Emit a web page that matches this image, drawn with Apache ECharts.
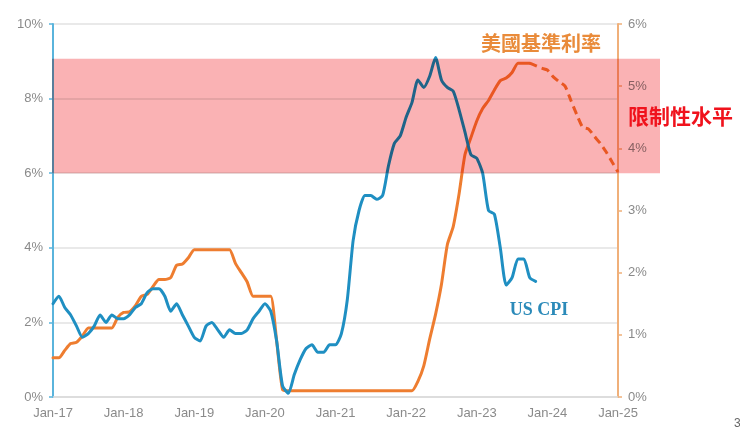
<!DOCTYPE html>
<html>
<head>
<meta charset="utf-8">
<script src="https://cdn.jsdelivr.net/npm/echarts@6/dist/echarts.min.js"></script>
<style>
html,body{margin:0;padding:0;background:#fff;}
#c{width:740px;height:432px;}
</style>
</head>
<body>
<div id="c"></div>
<script>
// X ticks (one per January; month index 0 = Jan-17)
const xTickLabels = ['Jan-17','Jan-18','Jan-19','Jan-20','Jan-21','Jan-22','Jan-23','Jan-24','Jan-25'];
// US CPI y/y %, monthly Jan-17 .. Nov-23 (left axis)
const cpi = [
  2.5, 2.7, 2.4, 2.2, 1.9, 1.6, 1.7, 1.9, 2.2, 2.0, 2.2, 2.1,
  2.1, 2.2, 2.4, 2.5, 2.8, 2.9, 2.9, 2.7, 2.3, 2.5, 2.2, 1.9,
  1.6, 1.5, 1.9, 2.0, 1.8, 1.6, 1.8, 1.7, 1.7, 1.8, 2.1, 2.3,
  2.5, 2.3, 1.5, 0.3, 0.1, 0.6, 1.0, 1.3, 1.4, 1.2, 1.2, 1.4,
  1.4, 1.7, 2.6, 4.2, 5.0, 5.4, 5.4, 5.3, 5.4, 6.2, 6.8, 7.0,
  7.5, 7.9, 8.5, 8.3, 8.6, 9.1, 8.5, 8.3, 8.2, 7.7, 7.1, 6.5,
  6.4, 6.0, 5.0, 4.9, 4.0, 3.0, 3.2, 3.7, 3.7, 3.2, 3.1
];
// US policy rate %, monthly Jan-17 .. Oct-23 (right axis)
const fedRate = [
  0.63, 0.63, 0.75, 0.86, 0.88, 0.98, 1.11, 1.11, 1.11, 1.11, 1.11, 1.28,
  1.36, 1.37, 1.47, 1.62, 1.65, 1.78, 1.89, 1.89, 1.92, 2.12, 2.14, 2.24,
  2.37, 2.37, 2.37, 2.37, 2.37, 2.37, 2.37, 2.15, 2.0, 1.85, 1.62, 1.62,
  1.62, 1.62, 0.9, 0.12, 0.1, 0.1, 0.1, 0.1, 0.1, 0.1, 0.1, 0.1,
  0.1, 0.1, 0.1, 0.1, 0.1, 0.1, 0.1, 0.1, 0.1, 0.1, 0.1, 0.1,
  0.1, 0.1, 0.25, 0.5, 0.93, 1.33, 1.81, 2.45, 2.74, 3.27, 3.9, 4.17,
  4.44, 4.64, 4.77, 4.94, 5.09, 5.13, 5.22, 5.37, 5.37, 5.37
];
// Projected policy rate %, monthly Oct-23 .. Jan-25 (dashed)
const projStart = 81;
const fedProjection = [5.37, 5.33, 5.29, 5.26, 5.15, 5.07, 5.0, 4.77, 4.54, 4.34, 4.31, 4.19, 4.08, 3.94, 3.78, 3.62];
// Restrictive band on the left (CPI) axis, %
const bandRange = [6.0, 9.07];

const chart = echarts.init(document.getElementById('c'), null, {renderer: 'canvas'});
const labelFont = 'Liberation Sans, Arial, sans-serif';
const option = {
  animation: false,
  backgroundColor: '#ffffff',
  grid: {left: 53, right: 122, top: 24, bottom: 35},
  xAxis: {
    type: 'value', min: 0, max: 96, interval: 12,
    axisLine: {show: true, lineStyle: {color: '#d9d9d9', width: 1.5}},
    axisTick: {show: false},
    splitLine: {show: false},
    axisLabel: {formatter: v => xTickLabels[Math.round(v / 12)], color: '#8a8a8a', fontSize: 13, margin: 10, fontFamily: labelFont}
  },
  yAxis: [
    {
      type: 'value', min: 0, max: 10, interval: 2, position: 'left',
      axisLine: {show: true, lineStyle: {color: '#5ab4dc', width: 2}},
      axisTick: {show: true, length: 4, lineStyle: {color: '#5ab4dc', width: 1.5}},
      axisLabel: {formatter: '{value}%', color: '#8a8a8a', fontSize: 13, margin: 10, fontFamily: labelFont},
      splitLine: {show: true, lineStyle: {color: '#e2e2e2', width: 1.5}}
    },
    {
      type: 'value', min: 0, max: 6, interval: 1, position: 'right',
      axisLine: {show: true, lineStyle: {color: '#f0b07a', width: 2}},
      axisTick: {show: true, length: 4, lineStyle: {color: '#f0b07a', width: 1.5}},
      axisLabel: {formatter: '{value}%', color: '#8a8a8a', fontSize: 13, margin: 10, fontFamily: labelFont},
      splitLine: {show: false}
    }
  ],
  series: [
    {
      name: 'US CPI', type: 'line', yAxisIndex: 0, showSymbol: false, smooth: 0.2,
      data: cpi.map((v, i) => [i, v]),
      lineStyle: {color: '#1f8fc2', width: 3, cap: 'round', join: 'round'},
      z: 3
    },
    {
      name: '美國基準利率', type: 'line', yAxisIndex: 1, showSymbol: false, smooth: 0.2,
      data: fedRate.map((v, i) => [i, v]),
      lineStyle: {color: '#ee7d30', width: 3, cap: 'round', join: 'round'},
      z: 2
    },
    {
      name: 'projection', type: 'line', yAxisIndex: 1, showSymbol: false, smooth: 0.2,
      data: fedProjection.map((v, i) => [projStart + i, v]),
      lineStyle: {color: '#ee7d30', width: 3, type: [8, 5]},
      z: 2
    }
  ]
};
chart.setOption(option);

const x0 = chart.convertToPixel({xAxisIndex: 0}, 0);
const x1 = chart.convertToPixel({xAxisIndex: 0}, 96);
const yTop = chart.convertToPixel({yAxisIndex: 0}, bandRange[1]);
const yBot = chart.convertToPixel({yAxisIndex: 0}, bandRange[0]);

chart.setOption({
  graphic: [
    {
      type: 'rect', z: 100, silent: true,
      shape: {x: x0 - 1, y: yTop, width: (x1 + 42) - (x0 - 1), height: yBot - yTop},
      style: {fill: 'rgb(250,178,180)', blend: 'multiply'}
    },
    {
      type: 'text', z: 110, left: 'auto', x: 541, y: 43,
      style: {text: '美國基準利率', fill: '#e98b3a', font: 'bold 20px "Noto Sans CJK TC", sans-serif', textAlign: 'center', textVerticalAlign: 'middle'}
    },
    {
      type: 'text', z: 110, x: 628, y: 116,
      style: {text: '限制性水平', fill: '#f0121c', font: 'bold 21px "Noto Sans CJK TC", sans-serif', textAlign: 'left', textVerticalAlign: 'middle'}
    },
    {
      type: 'text', z: 110, x: 539, y: 310,
      style: {text: 'US CPI', fill: '#2b8ab9', font: 'bold 18px "Liberation Serif", "DejaVu Serif", serif', textAlign: 'center', textVerticalAlign: 'middle'}
    },
    {
      type: 'text', z: 110, x: 734, y: 424,
      style: {text: '3', fill: '#666', font: '12px "Liberation Sans", sans-serif', textAlign: 'left', textVerticalAlign: 'middle'}
    }
  ]
});
</script>
</body>
</html>
